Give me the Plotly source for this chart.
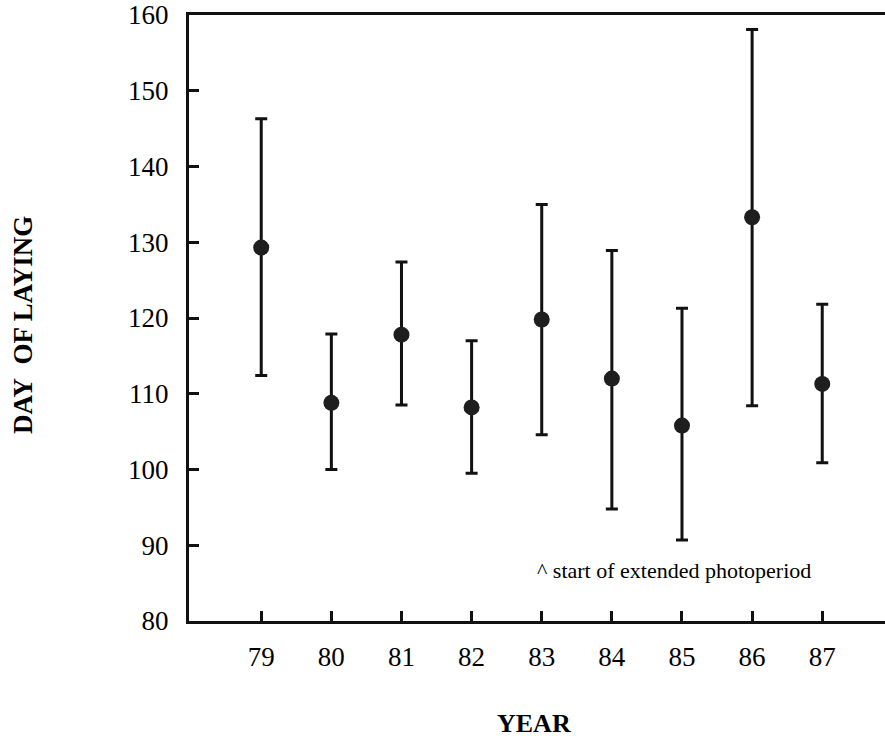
import plotly.graph_objects as go

years = [79, 80, 81, 82, 83, 84, 85, 86, 87]
mean_day = [129.3, 108.8, 117.8, 108.2, 119.8, 112.0, 105.8, 133.3, 111.3]
upper_day = [146.3, 117.9, 127.4, 117.0, 135.0, 128.9, 121.3, 158.1, 121.8]
lower_day = [112.4, 100.0, 108.5, 99.5, 104.6, 94.8, 90.7, 108.4, 100.9]
y_ticks = [80, 90, 100, 110, 120, 130, 140, 150, 160]

err_plus = [u - m for u, m in zip(upper_day, mean_day)]
err_minus = [m - l for m, l in zip(mean_day, lower_day)]

SERIF = "Liberation Serif"

fig = go.Figure()
fig.add_trace(go.Scatter(
    x=years, y=mean_day, mode="markers",
    marker=dict(size=16, color="#1e1e1e", line=dict(width=0)),
    error_y=dict(type="data", symmetric=False, array=err_plus, arrayminus=err_minus,
                 color="#111111", thickness=3, width=6),
    showlegend=False,
))

fig.update_layout(
    width=885, height=738,
    margin=dict(l=189, r=0, t=15, b=117),
    paper_bgcolor="white", plot_bgcolor="white",
    font=dict(family=SERIF, color="#111111"),
    xaxis=dict(
        range=[77.97, 87.895], tickvals=years, ticktext=[str(y) for y in years],
        ticks="inside", ticklen=10, tickwidth=3, tickcolor="#111111",
        showline=True, linewidth=3, linecolor="#111111", mirror=True,
        showgrid=False, zeroline=False,
        tickfont=dict(size=27, family=SERIF, color="#000000"),
        ticklabelstandoff=10,
    ),
    yaxis=dict(
        range=[80, 160], tickvals=y_ticks,
        ticks="inside", ticklen=10, tickwidth=3, tickcolor="#111111",
        showline=True, linewidth=3, linecolor="#111111", mirror=False,
        showgrid=False, zeroline=False,
        tickfont=dict(size=27, family=SERIF, color="#000000"),
        ticklabelstandoff=12,
    ),
    annotations=[
        dict(text="^ start of extended photoperiod", x=82.9, y=86.7, xref="x", yref="y",
             xanchor="left", yanchor="middle", showarrow=False,
             font=dict(size=22, family=SERIF, color="#000000")),
        dict(text="<b>YEAR</b>", x=0.5, y=0, xref="paper", yref="paper",
             xanchor="center", yanchor="middle", yshift=-102, xshift=-3, showarrow=False,
             font=dict(size=26, family=SERIF, color="#000000")),
        dict(text="<b>DAY&nbsp;&nbsp;OF LAYING</b>", x=0, y=0.5, xref="paper", yref="paper",
             xanchor="center", yanchor="middle", xshift=-166, yshift=-7, textangle=-90,
             showarrow=False, font=dict(size=27, family=SERIF, color="#000000")),
    ],
)

fig.write_html("out.html")
